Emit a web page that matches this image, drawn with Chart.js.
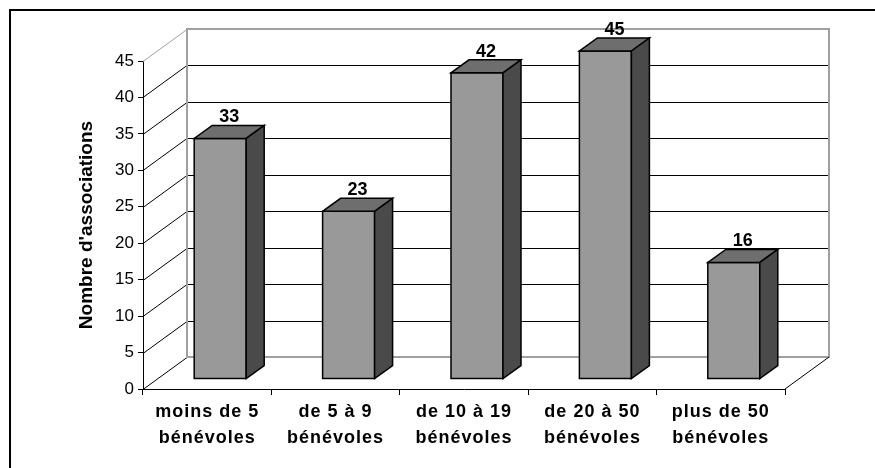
<!DOCTYPE html>
<html>
<head>
<meta charset="utf-8">
<script src="https://cdn.jsdelivr.net/npm/chart.js@4.4.1/dist/chart.umd.min.js"></script>
<style>
  html, body { margin: 0; padding: 0; background: #fff; }
</style>
</head>
<body>
<canvas id="benevolesChart" width="875" height="468"></canvas>
<script>
(() => {
  'use strict'

  const categories = [
    ['moins de 5', 'bénévoles'],
    ['de 5 à 9', 'bénévoles'],
    ['de 10 à 19', 'bénévoles'],
    ['de 20 à 50', 'bénévoles'],
    ['plus de 50', 'bénévoles']
  ];
  const associations = [33, 23, 42, 45, 16];
  const yTicks = [0, 5, 10, 15, 20, 25, 30, 35, 40, 45];
  const yTitle = "Nombre d'associations";

  const FONT = 'Arial, "Liberation Sans", sans-serif';
  const wall = { x: 44, y: -32 };   // décalage du mur du fond
  const front = { x: 13, y: -10 };  // face avant des barres
  const side = { x: 18, y: -13 };   // profondeur des barres

  const line = (ctx, x1, y1, x2, y2) => {
    ctx.beginPath();
    ctx.moveTo(x1, y1);
    ctx.lineTo(x2, y2);
    ctx.stroke();
  };

  const fake3d = {
    id: 'fake3d',
    beforeDraw(chart) {
      const ctx = chart.ctx;
      ctx.save();
      ctx.strokeStyle = '#000';
      ctx.lineWidth = 2;
      ctx.beginPath();
      ctx.moveTo(10, chart.height);
      ctx.lineTo(10, 10);
      ctx.lineTo(chart.width, 10);
      ctx.stroke();
      ctx.restore();
    },
    beforeDatasetsDraw(chart) {
      const { ctx, chartArea: { left, right, top, bottom }, scales: { y } } = chart;
      const bl = left + wall.x, br = right + wall.x;
      ctx.save();
      ctx.lineWidth = 1;

      // mur gauche + grille du fond
      y.ticks.forEach(t => {
        const py = Math.round(y.getPixelForValue(t.value)) + 0.5;
        ctx.strokeStyle = t.value === yTicks[yTicks.length - 1] ? '#a0a0a0' : '#000';
        line(ctx, left, py, bl, py + wall.y);
        if (t.value > 0 && t.value < yTicks[yTicks.length - 1]) {
          ctx.strokeStyle = '#000';
          line(ctx, bl, py + wall.y, br, py + wall.y);
        }
      });

      // bord du mur du fond
      ctx.strokeStyle = '#a0a0a0';
      ctx.lineWidth = 2;
      ctx.strokeRect(bl, Math.round(top) + wall.y, right - left, bottom - top);

      // bord droit du sol
      ctx.strokeStyle = '#000';
      ctx.lineWidth = 1;
      line(ctx, right, bottom, br, bottom + wall.y);

      // barres
      const meta = chart.getDatasetMeta(0);
      ctx.lineWidth = 1.5;
      ctx.lineJoin = 'miter';
      ctx.strokeStyle = '#000';
      meta.data.forEach(bar => {
        const { x, y: yt, base, width } = bar.getProps(['x', 'y', 'base', 'width'], true);
        const x0 = x - width / 2 + front.x, x1 = x + width / 2 + front.x;
        const y0 = yt + front.y, y1 = base + front.y;

        ctx.fillStyle = '#999999';
        ctx.beginPath();
        ctx.rect(x0, y0, x1 - x0, y1 - y0);
        ctx.fill();
        ctx.stroke();

        ctx.fillStyle = '#6e6e6e';
        ctx.beginPath();
        ctx.moveTo(x0, y0);
        ctx.lineTo(x1, y0);
        ctx.lineTo(x1 + side.x, y0 + side.y);
        ctx.lineTo(x0 + side.x, y0 + side.y);
        ctx.closePath();
        ctx.fill();
        ctx.stroke();

        ctx.fillStyle = '#4a4a4a';
        ctx.beginPath();
        ctx.moveTo(x1, y0);
        ctx.lineTo(x1 + side.x, y0 + side.y);
        ctx.lineTo(x1 + side.x, y1 + side.y);
        ctx.lineTo(x1, y1);
        ctx.closePath();
        ctx.fill();
        ctx.stroke();
      });
      ctx.restore();
    },
    afterDatasetsDraw(chart) {
      const ctx = chart.ctx;
      const meta = chart.getDatasetMeta(0);
      ctx.save();
      ctx.fillStyle = '#000';
      ctx.font = 'bold 18px ' + FONT;
      ctx.textAlign = 'center';
      ctx.textBaseline = 'alphabetic';
      meta.data.forEach((bar, i) => {
        const { x, y: yt } = bar.getProps(['x', 'y'], true);
        ctx.fillText(String(associations[i]), x + front.x + side.x / 2, yt + front.y + side.y - 3);
      });
      ctx.restore();
      // espacement des lettres pour les étiquettes de l'axe x (dessinées après)
      ctx.letterSpacing = '1px';
    },
    afterDraw(chart) {
      chart.ctx.letterSpacing = '0px';
    }
  };

  const ctx1 = document.getElementById('benevolesChart');
  const benevolesChart = new Chart(ctx1, {
    type: 'bar',
    data: {
      labels: categories,
      datasets: [{
        label: yTitle,
        data: associations,
        backgroundColor: 'rgba(0,0,0,0)',
        borderWidth: 0,
        categoryPercentage: 0.5,
        barPercentage: 0.81
      }]
    },
    options: {
      responsive: false,
      animation: false,
      events: [],
      layout: {
        padding: { left: 75, top: 61, right: 90, bottom: 0 }
      },
      scales: {
        x: {
          grid: {
            drawOnChartArea: false,
            tickLength: 6,
            color: '#000',
            offset: true
          },
          border: { color: '#000', width: 1 },
          ticks: {
            color: '#000',
            font: { family: FONT, size: 18, weight: 'bold', lineHeight: '26px' },
            padding: 4,
            maxRotation: 0,
            autoSkip: false,
            z: 1
          },
          afterFit: scale => { scale.height = 79; }
        },
        y: {
          min: 0,
          max: 45,
          afterBuildTicks: scale => {
            scale.ticks = yTicks.map(v => ({ value: v }));
          },
          grid: {
            drawOnChartArea: false,
            tickLength: 5,
            color: '#000'
          },
          border: { color: '#000', width: 1 },
          ticks: {
            color: '#000',
            font: { family: FONT, size: 17 },
            padding: 4
          },
          title: {
            display: true,
            text: yTitle,
            color: '#000',
            font: { family: FONT, size: 19, weight: 'bold' },
            padding: 0
          },
          afterFit: scale => { scale.width = 68; }
        }
      },
      plugins: {
        legend: { display: false },
        tooltip: { enabled: false }
      }
    },
    plugins: [fake3d]
  });

})();
</script>
</body>
</html>
